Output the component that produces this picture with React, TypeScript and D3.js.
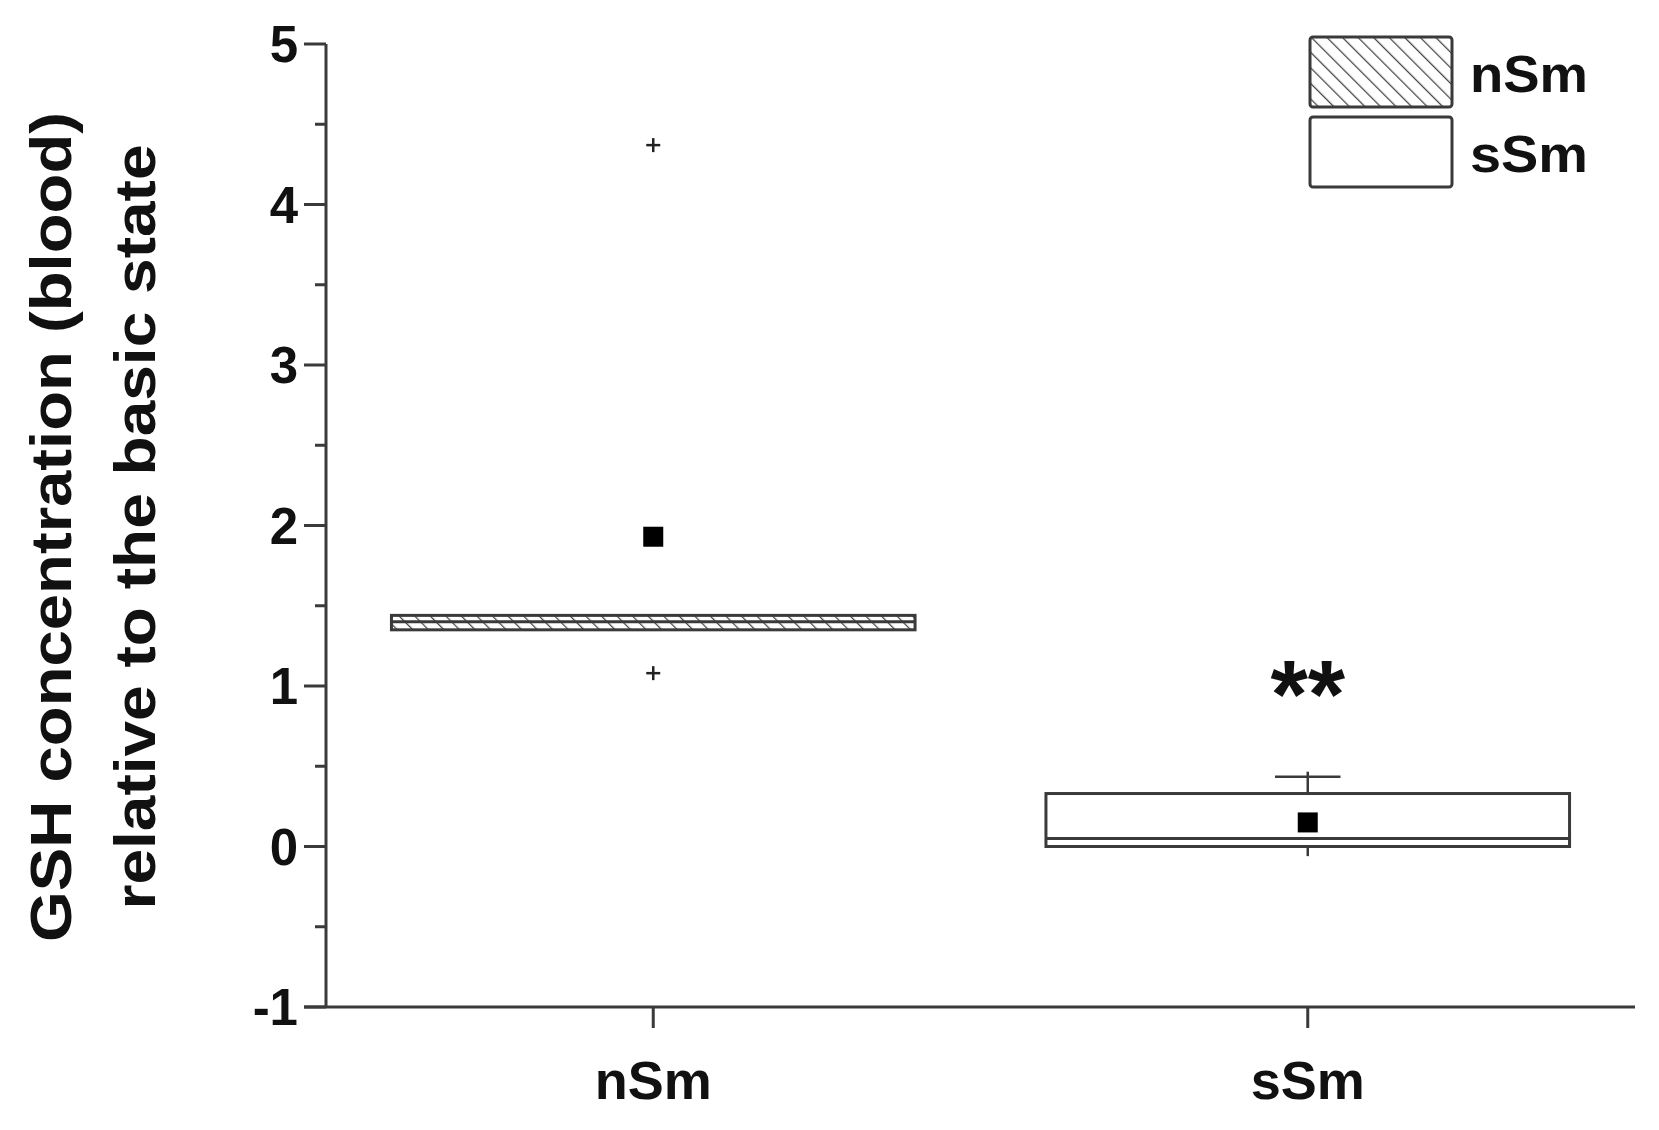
import React from 'react'
import { scaleLinear, scalePoint, range } from 'd3'

// box plot summary values
const categories = ['nSm', 'sSm']
const q1 = [1.35, 0.0]
const median = [1.4, 0.05]
const q3 = [1.44, 0.33]
const mean = [1.93, 0.15]
const whiskerLow = [null, -0.06]
const whiskerHigh = [null, 0.435]
const minMarker = [1.08, null]
const maxMarker = [4.37, null]
const hatched = [true, false]
const yTicks = [-1, 0, 1, 2, 3, 4, 5]
const signif = ['', '**']

const W = 1659
const H = 1130
const margin = { left: 326, right: 24, top: 44, bottom: 123 }
const FONT = 'Liberation Sans, Arial, sans-serif'
const AXIS = '#3a3a3a'

export default function App() {
  const x = scalePoint<string>()
    .domain(categories)
    .range([margin.left, W - margin.right])
    .padding(0.5)
  const y = scaleLinear()
    .domain([-1, 5])
    .range([H - margin.bottom, margin.top])

  const step = x.step()
  const boxW = step * 0.8
  const capW = step * 0.1
  const minorTicks = range(-1, 5, 1).map((d) => d + 0.5)

  return (
    <svg
      width={W}
      height={H}
      style={{ position: 'absolute', left: 0, top: 0, background: '#fff' }}
      fontFamily={FONT}
    >
      <defs>
        <pattern
          id="hatch"
          patternUnits="userSpaceOnUse"
          width="11"
          height="11"
          patternTransform="rotate(-45)"
        >
          <rect width="11" height="11" fill="#fff" />
          <line x1="0" y1="0" x2="0" y2="11" stroke="#444" strokeWidth="2.5" />
        </pattern>
      </defs>

      {/* boxes */}
      {categories.map((c, i) => {
        const cx = x(c)!
        return (
          <g key={c}>
            {whiskerHigh[i] != null && (
              <g stroke={AXIS} strokeWidth={2.5}>
                <line x1={cx} x2={cx} y1={y(q3[i])} y2={y(whiskerHigh[i]!) - 5} />
                <line
                  x1={cx - capW / 2}
                  x2={cx + capW / 2}
                  y1={y(whiskerHigh[i]!)}
                  y2={y(whiskerHigh[i]!)}
                />
              </g>
            )}
            {whiskerLow[i] != null && (
              <line
                x1={cx}
                x2={cx}
                y1={y(q1[i])}
                y2={y(whiskerLow[i]!)}
                stroke={AXIS}
                strokeWidth={2.5}
              />
            )}
            <rect
              x={cx - boxW / 2}
              y={y(q3[i])}
              width={boxW}
              height={y(q1[i]) - y(q3[i])}
              fill={hatched[i] ? 'url(#hatch)' : '#fff'}
              stroke={AXIS}
              strokeWidth={3}
            />
            <line
              x1={cx - boxW / 2}
              x2={cx + boxW / 2}
              y1={y(median[i])}
              y2={y(median[i])}
              stroke={AXIS}
              strokeWidth={3}
            />
            <rect
              x={cx - 10}
              y={y(mean[i]) - 10}
              width={20}
              height={20}
              fill="#000"
            />
            {[minMarker[i], maxMarker[i]].map((v, k) =>
              v == null ? null : (
                <g key={k} stroke="#222" strokeWidth={2.5}>
                  <line x1={cx - 7} x2={cx + 7} y1={y(v)} y2={y(v)} />
                  <line x1={cx} x2={cx} y1={y(v) - 7} y2={y(v) + 7} />
                </g>
              )
            )}
            {signif[i] && (
              <text
                x={cx}
                y={y(whiskerHigh[i] ?? q3[i]) - 50}
                textAnchor="middle"
                fontSize={96}
                fontWeight="bold"
                fill="#111"
              >
                {signif[i]}
              </text>
            )}
          </g>
        )
      })}

      {/* y axis */}
      <g stroke={AXIS} strokeWidth={3}>
        <line
          x1={margin.left}
          x2={margin.left}
          y1={margin.top}
          y2={H - margin.bottom}
        />
        {yTicks.map((t) => (
          <line key={t} x1={margin.left - 22} x2={margin.left} y1={y(t)} y2={y(t)} />
        ))}
        {minorTicks.map((t) => (
          <line key={t} x1={margin.left - 11} x2={margin.left} y1={y(t)} y2={y(t)} />
        ))}
      </g>
      {yTicks.map((t) => (
        <text
          key={t}
          x={margin.left - 28}
          y={y(t) + 18}
          textAnchor="end"
          fontSize={51}
          fontWeight="bold"
          fill="#111"
        >
          {t}
        </text>
      ))}

      {/* x axis */}
      <g stroke={AXIS} strokeWidth={3}>
        <line
          x1={margin.left - 22}
          x2={W - margin.right}
          y1={y(-1)}
          y2={y(-1)}
        />
        {categories.map((c) => (
          <line key={c} x1={x(c)} x2={x(c)} y1={y(-1)} y2={y(-1) + 21} />
        ))}
      </g>
      {categories.map((c) => (
        <text
          key={c}
          x={x(c)}
          y={y(-1) + 92}
          textAnchor="middle"
          fontSize={54}
          fontWeight="bold"
          fill="#111"
        >
          {c}
        </text>
      ))}

      {/* y title */}
      <g transform="translate(0, 527) rotate(-90)" fontWeight="bold" fill="#111">
        <text x={0} y={71} textAnchor="middle" fontSize={58} textLength={830} lengthAdjust="spacingAndGlyphs">
          GSH concentration (blood)
        </text>
        <text x={0} y={155} textAnchor="middle" fontSize={58} textLength={765} lengthAdjust="spacingAndGlyphs">
          relative to the basic state
        </text>
      </g>

      {/* legend */}
      {categories.map((c, i) => (
        <g key={c} transform={`translate(1310, ${37 + i * 80})`}>
          <rect
            width={142}
            height={70}
            rx={3}
            fill={hatched[i] ? 'url(#hatch)' : '#fff'}
            stroke={AXIS}
            strokeWidth={3}
          />
          <text
            x={160}
            y={55}
            fontSize={52}
            fontWeight="bold"
            fill="#111"
            textLength={118}
            lengthAdjust="spacingAndGlyphs"
          >
            {c}
          </text>
        </g>
      ))}
    </svg>
  )
}
